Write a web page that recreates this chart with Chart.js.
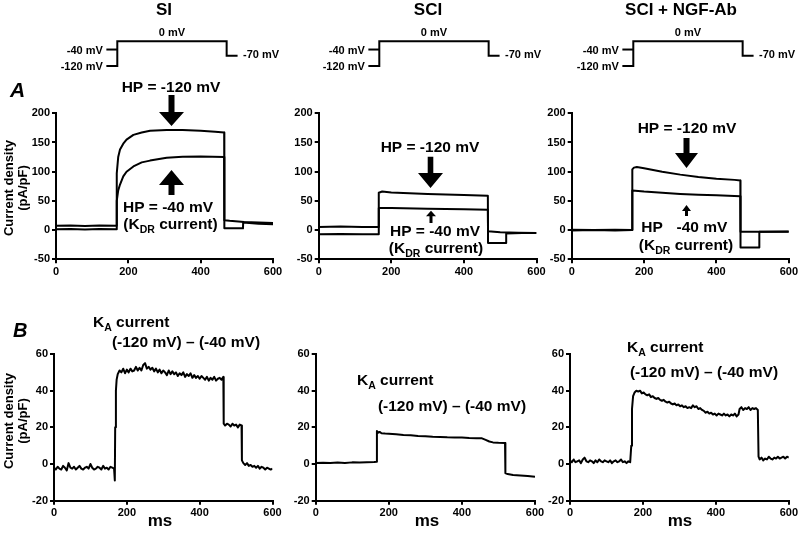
<!DOCTYPE html>
<html><head><meta charset="utf-8">
<script src="https://cdn.jsdelivr.net/npm/chart.js@4"></script>
<style>
html,body{margin:0;padding:0;background:#fff;}
#wrap{position:relative;width:800px;height:544px;overflow:hidden;background:#fff;}
canvas{position:absolute;}
</style></head><body><div id="wrap"></div>
<script>
// ---------- Voltage protocol (ms, mV) ----------
const PROTO_T_120 = [-30, 0, 0, 300, 300, 330];
const PROTO_V_120 = [-120, -120, 0, 0, -70, -70];
const PROTO_T_40 = [-30, 0];
const PROTO_V_40 = [-40, -40];

// ---------- Panel A: SI ----------
const SI_T_120 = [0, 40, 80, 120, 167, 168, 172, 177, 186, 195, 214, 237, 260, 306, 350, 400, 440, 465, 465.5, 517, 517.5, 560, 600];
const SI_V_120 = [1.5, 2, 1, 2, 1.5, 97, 125, 138, 148, 155, 163, 167, 170, 171.5, 171.5, 170, 168.5, 167, 3, 3, 13, 11, 10];
const SI_T_40 = [0, 40, 80, 120, 167, 168, 172, 177, 186, 195, 214, 237, 260, 306, 350, 400, 465, 465.5, 480, 520, 560, 600];
const SI_V_40 = [7.5, 8, 7, 8, 7.5, 50, 68, 78, 92, 100, 109, 116, 119, 124, 125.5, 126, 125, 17, 16, 14, 13, 12];

// ---------- Panel A: SCI ----------
const SCI_T_120 = [0, 60, 120, 165, 165.5, 175, 200, 250, 300, 350, 400, 466, 466.5, 516, 516.5, 560, 600];
const SCI_V_120 = [-7, -6.5, -7, -7, 64, 66, 64.5, 63, 62, 61, 60, 59, -22, -22, -6, -5, -5];
const SCI_T_40 = [0, 60, 120, 165, 165.5, 200, 300, 400, 466, 466.5, 500, 550, 600];
const SCI_V_40 = [5.5, 6, 5.5, 5.5, 38, 38, 36.5, 35.5, 35, -2, -3.5, -4.5, -5];

// ---------- Panel A: SCI + NGF-Ab ----------
const NGF_T_120 = [0, 60, 120, 167, 167.5, 172, 180, 200, 250, 300, 350, 400, 450, 466, 466.5, 518, 518.5, 560, 600];
const NGF_V_120 = [0.5, 0, 0.5, 0, 104, 107, 108, 106, 100, 95, 91, 88, 86, 85, -30, -30, -3, -3, -3];
const NGF_T_40 = [0, 60, 120, 167, 167.5, 200, 250, 300, 350, 400, 466, 466.5, 530, 600];
const NGF_V_40 = [-0.5, 0, -0.5, 0, 68, 66, 64, 62, 60.5, 59.5, 58, -3, -3, -2.5];

// ---------- Panel B: K_A current (difference) ----------
const KA_SI_T = [
  0,5,10,15,20,25,30,35,40,45,
  50,55,60,65,70,75,80,85,90,95,
  100,105,110,115,120,125,130,135,140,145,
  150,155,160,165,167,168,170,172,175,180,
  185,190,195,200,205,210,215,220,225,230,
  235,240,245,250,255,260,265,270,275,280,
  285,290,295,300,305,310,315,320,325,330,
  335,340,345,350,355,360,365,370,375,380,
  385,390,395,400,405,410,415,420,425,430,
  435,440,445,450,455,460,465,466,470,475,
  480,485,490,495,500,505,510,515,516,520,
  525,530,535,540,545,550,555,560,565,570,
  575,580,585,590,595,600];
const KA_SI_V = [
  -2,-3,-1.5,-2.5,-3,-1,-2,-3.5,0.5,-2,
  -2.5,-1.5,-3,-2,-1,-2.5,-3,-2,-1.5,-2.5,
  0,-2,-3,-2.5,-1.5,-2,-3,-1,-2.5,-2,
  -3,-1.5,-2,-2.5,-9,20,40,46,49,51,
  50,52,49.5,51.5,50,52,50.5,51,53,51,
  52.5,51,54,55,52,53,51.5,52.5,50.5,52,
  50,51.5,49.5,51,50,48.5,51,49,50.5,49,
  50,48,49.5,48.5,50,47.5,49,48,49.5,47,
  48.5,47,48,46.5,48,47,46,47.5,45.5,47,
  46,47.5,45.5,46.5,47,46,47.5,22,21,22,
  21.5,20.5,22,21,21.5,20,21.5,21,2,0.5,
  -0.5,0.5,-1,-0.5,-1.5,-1,-2,-1,-2.5,-1.5,
  -2,-3,-2,-2.5,-3,-2.5];

const KA_SCI_T = [0,20,40,60,80,100,120,140,160,167,167.5,170,175,180,190,200,220,240,260,280,300,320,340,360,380,400,420,440,455,465,475,485,500,518,519,525,540,560,580,600];
const KA_SCI_V = [0.5,0.7,0.5,0.8,0.6,0.9,0.8,1,1.1,1.2,18,17,17.5,16.8,16.6,16.5,16.2,15.8,15.7,15.3,15.2,14.9,14.8,14.6,14.5,14.4,14.2,14.1,14,13.2,12.3,11.8,11.6,11.5,-5,-5.5,-6,-6.2,-6.5,-7];

const KA_NGF_T = [
  0,5,10,15,20,25,30,35,40,45,
  50,55,60,65,70,75,80,85,90,95,
  100,105,110,115,120,125,130,135,140,145,
  150,155,160,165,
  168,170,173,177,182,187,192,197,202,207,
  212,217,222,227,232,237,242,247,252,257,
  262,267,272,277,282,287,292,297,302,307,
  312,317,322,327,332,337,342,347,352,357,
  362,367,372,377,382,387,392,397,402,407,
  412,417,422,427,432,437,442,447,452,457,
  462,465,470,475,480,485,490,495,500,505,
  510,515,517,520,525,530,535,540,545,550,
  555,560,565,570,575,580,585,590,595,600];
const KA_NGF_V = [
  2,1,2.5,1,1.5,2,0.5,2.5,3.5,1.5,
  1,2,1.5,0.5,2,1,2.5,1.5,1,2,
  1.5,1,2,0.5,1.5,2,1,1.5,2.5,1,
  1.5,0.5,1.5,1,
  10,30,37,39,40,39.5,40,38.5,39,38,
  37.5,38,36.5,37,36,35.5,36,35,34.5,35,
  34,33.5,34,33,32.5,33,32,32.5,31.5,32,
  31,31.5,30.5,31,30.5,32,31,31.5,30,30.5,
  29.5,29,28,28.5,27.5,28,27,27.5,26.5,27.5,
  27,26.5,27.5,26.5,27,26,27,26.5,27.5,26,
  27,30,31,29.5,30.5,30,31,29.5,30.5,30,
  30.5,29.5,4,2.5,3.5,2,3,2.5,4,3,
  2.5,3.5,3,4,3,3.5,4,3,4,3.5];

// ---------- tick settings ----------
const X_TICKS = {min: 0, max: 600, step: 200};
const YA_TICKS = {min: -50, max: 200, step: 50};
const YB_TICKS = {min: -20, max: 60, step: 20};

const FAM = '"Liberation Sans", Arial, Helvetica, sans-serif';
Chart.defaults.font.family = FAM;
Chart.defaults.color = '#000';

const annotPlugin = {
  id: 'annot',
  afterDraw(chart, args, opts) {
    const ctx = chart.ctx;
    const ox = opts.ox || 0, oy = opts.oy || 0;
    ctx.save();
    ctx.fillStyle = '#000';
    (opts.items || []).forEach(it => {
      const font = it.font || ('bold 15.5px ' + FAM);
      if (it.type === 'text') {
        ctx.font = font; ctx.textAlign = it.align || 'center'; ctx.textBaseline = 'alphabetic';
        ctx.fillText(it.t, it.x - ox, it.y - oy);
      } else if (it.type === 'vtext') {
        ctx.save();
        ctx.translate(it.x - ox, it.y - oy);
        ctx.rotate(-Math.PI / 2);
        ctx.font = font; ctx.textAlign = 'center'; ctx.textBaseline = 'middle';
        ctx.fillText(it.t, 0, 0);
        ctx.restore();
      } else if (it.type === 'rich') {
        let w = 0;
        it.segs.forEach(s => { ctx.font = s.font || font; w += ctx.measureText(s.t).width; });
        let x = (it.align === 'left') ? it.x - ox : it.x - ox - w / 2;
        ctx.textAlign = 'left'; ctx.textBaseline = 'alphabetic';
        it.segs.forEach(s => {
          ctx.font = s.font || font;
          ctx.fillText(s.t, x, it.y - oy + (s.dy || 0));
          x += ctx.measureText(s.t).width;
        });
      } else if (it.type === 'dtext') {
        const px = chart.scales.x.getPixelForValue(it.dx) + (it.offX || 0);
        const py = chart.scales.y.getPixelForValue(it.dy) + (it.offY || 0);
        ctx.font = font; ctx.textAlign = it.align || 'center'; ctx.textBaseline = 'alphabetic';
        ctx.fillText(it.t, px, py);
      } else if (it.type === 'arrow') {
        const x = it.x - ox, tip = it.tip - oy, se = it.shaftEnd - oy;
        const d = Math.sign(tip - se);
        const base = tip - d * it.headLen;
        const sw = it.shaftW / 2, hw = it.headW / 2;
        ctx.beginPath();
        ctx.moveTo(x - sw, se); ctx.lineTo(x + sw, se); ctx.lineTo(x + sw, base);
        ctx.lineTo(x + hw, base); ctx.lineTo(x, tip); ctx.lineTo(x - hw, base);
        ctx.lineTo(x - sw, base); ctx.closePath(); ctx.fill();
      }
    });
    ctx.restore();
  }
};
Chart.register(annotPlugin);

const wrap = document.getElementById('wrap');
function mkCanvas(left, top, w, h) {
  const c = document.createElement('canvas');
  c.width = w; c.height = h;
  c.style.left = left + 'px'; c.style.top = top + 'px';
  c.style.width = w + 'px'; c.style.height = h + 'px';
  wrap.appendChild(c);
  return c;
}
function series(T, V) { return T.map((t, i) => ({x: t, y: V[i]})); }

const tickFont = {size: 11, weight: 'bold', family: FAM};
function panel(cfg) {
  const c = mkCanvas(cfg.left, cfg.top, cfg.w, cfg.h);
  return new Chart(c, {
    type: 'line',
    data: {datasets: cfg.series.map(s => ({
      data: series(s[0], s[1]), borderColor: '#000', borderWidth: 2, pointRadius: 0,
      tension: 0, fill: false, borderJoinStyle: 'round', borderCapStyle: 'butt'
    }))},
    options: {
      responsive: false, animation: false, events: [],
      layout: {padding: cfg.pad},
      plugins: {legend: {display: false}, tooltip: {enabled: false},
        annot: {ox: cfg.left, oy: cfg.top, items: cfg.items}},
      scales: {
        x: {type: 'linear', min: X_TICKS.min, max: X_TICKS.max,
          ticks: {stepSize: X_TICKS.step, font: tickFont, color: '#000', padding: 2, maxRotation: 0, autoSkip: false},
          grid: {drawOnChartArea: false, drawTicks: true, tickLength: 4, color: '#000', lineWidth: 2},
          border: {display: true, color: '#000', width: 2},
          afterFit(s) { s.height = 26; }},
        y: {type: 'linear', min: cfg.yt.min, max: cfg.yt.max,
          ticks: {stepSize: cfg.yt.step, font: tickFont, color: '#000', padding: 2, autoSkip: false},
          grid: {drawOnChartArea: false, drawTicks: true, tickLength: 4, color: '#000', lineWidth: 2},
          border: {display: true, color: '#000', width: 2},
          afterFit(s) { s.width = 30; }}
      }
    }
  });
}

const PK = 0.3645, P0Y = 41.3, PKY = 0.2058;
function proto(cfg) {
  const c = mkCanvas(cfg.left, 0, cfg.w, 80);
  const xmin = (cfg.left - cfg.stepX) / PK, xmax = (cfg.left + cfg.w - cfg.stepX) / PK;
  const ymax = P0Y / PKY, ymin = -(80 - P0Y) / PKY;
  const lf = 'bold 11px ' + FAM;
  return new Chart(c, {
    type: 'line',
    data: {datasets: [
      {data: series(PROTO_T_120, PROTO_V_120), borderColor: '#000', borderWidth: 2, pointRadius: 0, tension: 0, borderJoinStyle: 'miter', borderCapStyle: 'butt'},
      {data: series(PROTO_T_40, PROTO_V_40), borderColor: '#000', borderWidth: 2, pointRadius: 0, tension: 0, borderCapStyle: 'butt'}
    ]},
    options: {
      responsive: false, animation: false, events: [],
      layout: {padding: 0},
      plugins: {legend: {display: false}, tooltip: {enabled: false},
        annot: {ox: cfg.left, oy: 0, items: [
          {type: 'text', t: cfg.title, x: cfg.titleX, y: 15, font: 'bold 17px ' + FAM},
          {type: 'dtext', t: '-40 mV', dx: -30, dy: -40, align: 'right', offX: -3.5, offY: 4, font: lf},
          {type: 'dtext', t: '-120 mV', dx: -30, dy: -120, align: 'right', offX: -3.5, offY: 4, font: lf},
          {type: 'dtext', t: '0 mV', dx: 150, dy: 0, align: 'center', offX: 0, offY: -5.5, font: lf},
          {type: 'dtext', t: '-70 mV', dx: 330, dy: -70, align: 'left', offX: 5.5, offY: 2.5, font: lf}
        ]}},
      scales: {
        x: {type: 'linear', display: false, min: xmin, max: xmax},
        y: {type: 'linear', display: false, min: ymin, max: ymax}
      }
    }
  });
}

proto({left: 40, w: 250, stepX: 117.3, title: 'SI', titleX: 164});
proto({left: 300, w: 250, stepX: 379.3, title: 'SCI', titleX: 428});
proto({left: 560, w: 240, stepX: 633.3, title: 'SCI + NGF-Ab', titleX: 681});

const F = 'bold 15.5px ' + FAM, FS = 'bold 10.5px ' + FAM;
const kdr = (x, y) => ({type: 'rich', x, y, segs: [{t: '(K', font: F}, {t: 'DR', font: FS, dy: 4}, {t: ' current)', font: F}]});
const ka = (x, y) => ({type: 'rich', align: 'left', x, y, segs: [{t: 'K', font: F}, {t: 'A', font: FS, dy: 4}, {t: ' current', font: F}]});
const diff = (x, y) => ({type: 'text', t: '(-120 mV) \u2013 (-40 mV)', x, y, font: F});
const ms = (x) => ({type: 'text', t: 'ms', x, y: 526, font: 'bold 17px ' + FAM});
const yt = (y) => [
  {type: 'vtext', t: 'Current density', x: 9, y, font: 'bold 13px ' + FAM},
  {type: 'vtext', t: '(pA/pF)', x: 23.5, y, font: 'bold 13px ' + FAM}];

// A panels: canvas top 60, height 250 -> chart area 113.3..259.3
panel({left: 0, top: 60, w: 290, h: 250, pad: {left: 26, right: 17, top: 53.3, bottom: 24.7}, yt: YA_TICKS,
  series: [[SI_T_120, SI_V_120], [SI_T_40, SI_V_40]],
  items: [
    {type: 'text', t: 'A', x: 10, y: 97, align: 'left', font: 'italic bold 21px ' + FAM},
    {type: 'text', t: 'HP = -120 mV', x: 171, y: 92.3, font: F},
    {type: 'arrow', x: 171.5, shaftEnd: 95, tip: 126, headLen: 14, headW: 25, shaftW: 6},
    {type: 'arrow', x: 171.5, shaftEnd: 195, tip: 170, headLen: 15, headW: 25, shaftW: 6},
    {type: 'text', t: 'HP = -40 mV', x: 168, y: 212.3, font: F},
    kdr(170.5, 229),
    ...yt(188)
  ]});
panel({left: 270, top: 60, w: 280, h: 250, pad: {left: 18.7, right: 13.5, top: 53.3, bottom: 24.7}, yt: YA_TICKS,
  series: [[SCI_T_120, SCI_V_120], [SCI_T_40, SCI_V_40]],
  items: [
    {type: 'text', t: 'HP = -120 mV', x: 430, y: 151.5, font: F},
    {type: 'arrow', x: 430.5, shaftEnd: 156.7, tip: 188, headLen: 15, headW: 25, shaftW: 5.6},
    {type: 'arrow', x: 431, shaftEnd: 223, tip: 210.7, headLen: 5.5, headW: 10, shaftW: 3},
    {type: 'text', t: 'HP = -40 mV', x: 435, y: 236, font: F},
    kdr(436, 253)
  ]});
panel({left: 540, top: 60, w: 260, h: 250, pad: {left: 1.7, right: 9.5, top: 53.3, bottom: 24.7}, yt: YA_TICKS,
  series: [[NGF_T_120, NGF_V_120], [NGF_T_40, NGF_V_40]],
  items: [
    {type: 'text', t: 'HP = -120 mV', x: 687, y: 132.5, font: F},
    {type: 'arrow', x: 686.5, shaftEnd: 138, tip: 168, headLen: 15, headW: 23, shaftW: 6},
    {type: 'arrow', x: 686.5, shaftEnd: 216, tip: 205, headLen: 6, headW: 9, shaftW: 3},
    {type: 'text', t: 'HP', x: 652, y: 231.5, font: F},
    {type: 'text', t: '-40 mV', x: 702, y: 231.5, font: F},
    kdr(686, 249.5)
  ]});

// B panels: canvas top 310, height 234 -> chart area 354..500.7
panel({left: 0, top: 310, w: 290, h: 234, pad: {left: 24, right: 17.5, top: 44, bottom: 17.3}, yt: YB_TICKS,
  series: [[KA_SI_T, KA_SI_V]],
  items: [
    {type: 'text', t: 'B', x: 13, y: 336.7, align: 'left', font: 'italic bold 20px ' + FAM},
    ka(93, 326.5), diff(186, 346.5), ms(160), ...yt(421)
  ]});
panel({left: 270, top: 310, w: 280, h: 234, pad: {left: 15.7, right: 15, top: 44, bottom: 17.3}, yt: YB_TICKS,
  series: [[KA_SCI_T, KA_SCI_V]],
  items: [ka(357, 385), diff(452, 410.5), ms(427)]});
panel({left: 540, top: 310, w: 260, h: 234, pad: {left: 0, right: 10.7, top: 44, bottom: 17.3}, yt: YB_TICKS,
  series: [[KA_NGF_T, KA_NGF_V]],
  items: [ka(627, 351.5), diff(704, 377), ms(680)]});
</script>
</body></html>
